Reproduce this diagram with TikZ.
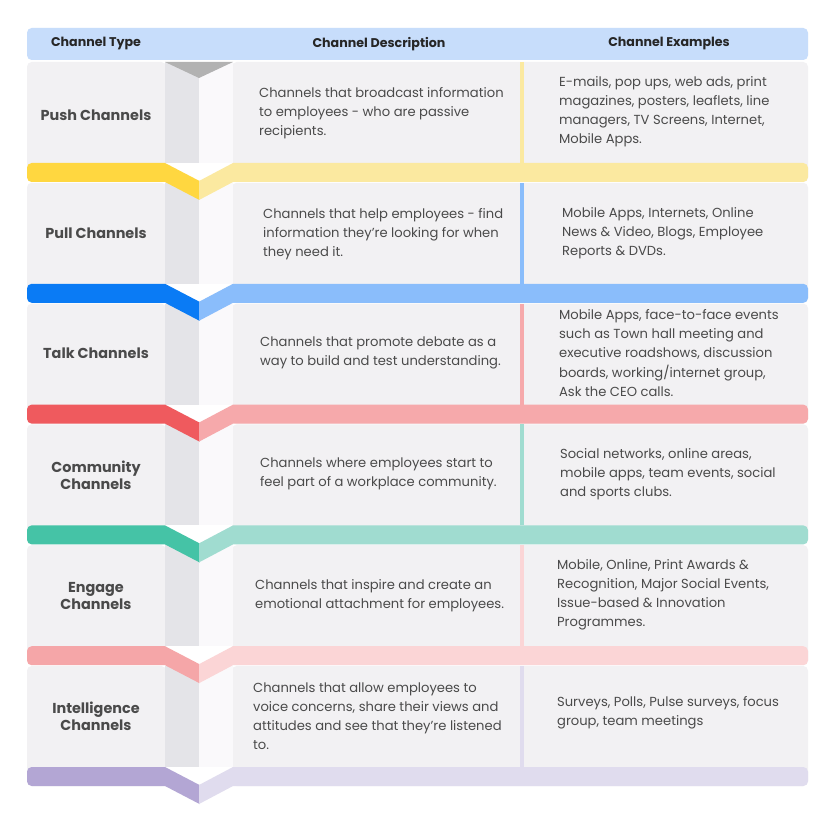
\documentclass[tikz,border=0pt]{standalone}
\usepackage{fontspec}
\setmainfont{Poppins}
\usetikzlibrary{positioning}
\definecolor{head}{HTML}{C7DDFB}
\definecolor{cell}{HTML}{F2F1F3}
\definecolor{foldd}{HTML}{E4E4E8}
\definecolor{foldl}{HTML}{FAF9FB}
\definecolor{ink}{HTML}{4A4A4A}
\definecolor{pushD}{HTML}{FFD740}\definecolor{pushL}{HTML}{FBE9A0}
\definecolor{pullD}{HTML}{0A7BF5}\definecolor{pullL}{HTML}{8ABDFB}
\definecolor{talkD}{HTML}{EF5A5E}\definecolor{talkL}{HTML}{F6A9AB}
\definecolor{commD}{HTML}{45C3A6}\definecolor{commL}{HTML}{A0DCD0}
\definecolor{engD}{HTML}{F5A6A8}\definecolor{engL}{HTML}{FBD5D6}
\definecolor{intD}{HTML}{B3A6D4}\definecolor{intL}{HTML}{E0DCEE}
\tikzset{
  headtext/.style={font=\fontsize{10.8}{12}\selectfont\bfseries, text=black!85},
  typetext/.style={font=\fontsize{12.3}{14.5}\selectfont\bfseries, text=ink, align=center},
  celltext/.style={font=\fontsize{11.2}{16.3}\selectfont, text=ink, align=left, anchor=west}
}
\begin{document}
\begin{tikzpicture}[x=0.03cm,y=-0.03cm]
\useasboundingbox[fill=white] (0,0) rectangle (834,818);
% header
\fill[head, rounded corners=4] (27,28) rectangle (808,60);
\node (h1) [headtext] at (96,44) {Channel Type};
\node (h2) [headtext] at (379,44) {Channel Description};
\node (h3) [headtext] at (669,44) {Channel Examples};
% row bodies
\foreach \i/\lt in {0/pushL,1/pullL,2/talkL,3/commL,4/engL,5/intL}{
  \pgfmathsetmacro{\t}{62+120.8*\i}
  \pgfmathsetmacro{\b}{\t+101}
  \pgfmathsetmacro{\e}{\t+120}
  \fill[cell, rounded corners=4] (27,\t) rectangle (166,\e);
  \fill[cell, rounded corners=4] (232,\t) rectangle (808,\e);
  \fill[foldd] (165,\t) rectangle (199,\b);
  \fill[foldl] (199,\t) rectangle (233,\b);
  \fill[\lt] (520,\t) rectangle (524,\b);
}
% coloured bands
\foreach \i/\dk/\lt in {0/pushD/pushL,1/pullD/pullL,2/talkD/talkL,3/commD/commL,4/engD/engL,5/intD/intL}{
  \pgfmathsetmacro{\b}{163+120.8*\i}
  \pgfmathsetmacro{\e}{\b+19}
  \fill[\dk] (199.5,\b+18) -- (165,\b) {[rounded corners=4] -- (27,\b) -- (27,\e)} -- (165,\e) -- (199.5,\e+18) -- cycle;
  \fill[\lt] (199,\b+18) -- (233,\b) {[rounded corners=4] -- (808,\b) -- (808,\e)} -- (233,\e) -- (199,\e+18) -- cycle;
}
\fill[black!30] (165,62) -- (233,62) -- (199,78) -- cycle;
% texts
\node (t1) [typetext] at (96,115) {Push Channels};
\node (t2) [typetext] at (96,233) {Pull Channels};
\node (t3) [typetext] at (96,353) {Talk Channels};
\node (t4) [typetext] at (96,475) {Community\\Channels};
\node (t5) [typetext] at (96,596) {Engage\\Channels};
\node (t6) [typetext] at (96,716) {Intelligence\\Channels};
\node (d1) [celltext] at (255,113) {Channels that broadcast information\\to employees - who are passive\\recipients.};
\node (d2) [celltext] at (259,234) {Channels that help employees - find\\information they’re looking for when\\they need it.};
\node (d3) [celltext] at (256,353) {Channels that promote debate as a\\way to build and test understanding.};
\node (d4) [celltext] at (256,474) {Channels where employees start to\\feel part of a workplace community.};
\node (d5) [celltext] at (251,596) {Channels that inspire and create an\\emotional attachment for employees.};
\node (d6) [celltext] at (249,716) {Channels that allow employees to\\voice concerns, share their views and\\attitudes and see that they’re listened\\to.};
\node (e1) [celltext] at (555,112) {E-mails, pop ups, web ads, print\\magazines, posters, leaflets, line\\managers, TV Screens, Internet,\\Mobile Apps.};
\node (e2) [celltext] at (558,233) {Mobile Apps, Internets, Online\\News \& Video, Blogs, Employee\\Reports \& DVDs.};
\node (e3) [celltext] at (555,353) {Mobile Apps, face-to-face events\\such as Town hall meeting and\\executive roadshows, discussion\\boards, working/internet group,\\Ask the CEO calls.};
\node (e4) [celltext] at (556,474) {Social networks, online areas,\\mobile apps, team events, social\\and sports clubs.};
\node (e5) [celltext] at (553,595) {Mobile, Online, Print Awards \&\\Recognition, Major Social Events,\\Issue-based \& Innovation\\Programmes.};
\node (e6) [celltext] at (553,713) {Surveys, Polls, Pulse surveys, focus\\group, team meetings};
\end{tikzpicture}
\end{document}
